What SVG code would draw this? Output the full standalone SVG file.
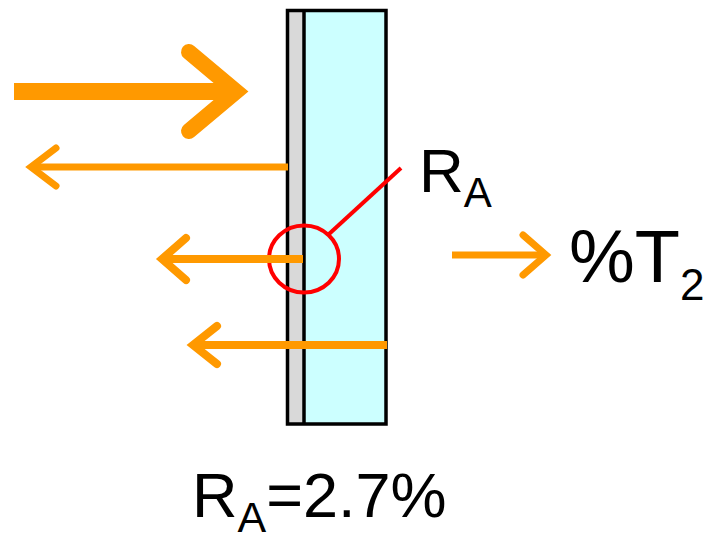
<svg xmlns="http://www.w3.org/2000/svg" width="711" height="534" viewBox="0 0 711 534">
<style>
.ar{fill:none;stroke:#FF9900;stroke-linecap:round;stroke-linejoin:miter;stroke-miterlimit:10}
.sh{fill:none;stroke:#FF9900;stroke-linecap:butt}
.t{font-family:"Liberation Sans",Arial,sans-serif;fill:#000}
</style>
<rect width="711" height="534" fill="#fff"/>
<g id="panel">
<rect x="287.5" y="10.5" width="98.5" height="413.5" fill="#CCFFFF" stroke="none"/>
<rect x="287.5" y="10.5" width="16.5" height="413.5" fill="#D9D9D9" stroke="none"/>
<line x1="304" y1="10.5" x2="304" y2="424" stroke="#000" stroke-width="3.5"/>
<rect x="287.5" y="10.5" width="98.5" height="413.5" fill="none" stroke="#000" stroke-width="3.5"/>
</g>
<g id="callout">
<ellipse cx="304" cy="259" rx="35" ry="33.5" fill="none" stroke="#FF0000" stroke-width="4"/>
<line x1="329" y1="234" x2="401" y2="168" stroke="#FF0000" stroke-width="4"/>
</g>
<g id="connectors">
<line class="sh" x1="14" y1="91.5" x2="234" y2="91.5" stroke-width="17"/>
<path class="ar" d="M189,52 L236,91.5 L189,131" stroke-width="16"/>
<line class="sh" x1="288" y1="167" x2="34" y2="167" stroke-width="7"/>
<path class="ar" d="M56,148 L31,167 L56,186" stroke-width="7"/>
<line class="sh" x1="303" y1="259" x2="166" y2="259" stroke-width="8"/>
<path class="ar" d="M186,238 L162,259 L186,280" stroke-width="8"/>
<line class="sh" x1="387" y1="345" x2="196" y2="345" stroke-width="8"/>
<path class="ar" d="M217,326 L193,345 L217,364" stroke-width="8"/>
<line class="sh" x1="452" y1="255" x2="543" y2="255" stroke-width="7"/>
<path class="ar" d="M523,235 L546,255 L523,275" stroke-width="7"/>
</g>
<g id="label-ra">
<text class="t" x="419" y="192" font-size="62">R<tspan font-size="42" dy="15">A</tspan></text>
</g>
<g id="label-t2">
<text class="t" x="569" y="282" font-size="74">%T<tspan font-size="44" dy="18">2</tspan></text>
</g>
<g id="label-value">
<text class="t" x="192" y="517" font-size="63">R<tspan font-size="43" dy="15">A</tspan><tspan dy="-15">=2.7%</tspan></text>
</g>
</svg>
